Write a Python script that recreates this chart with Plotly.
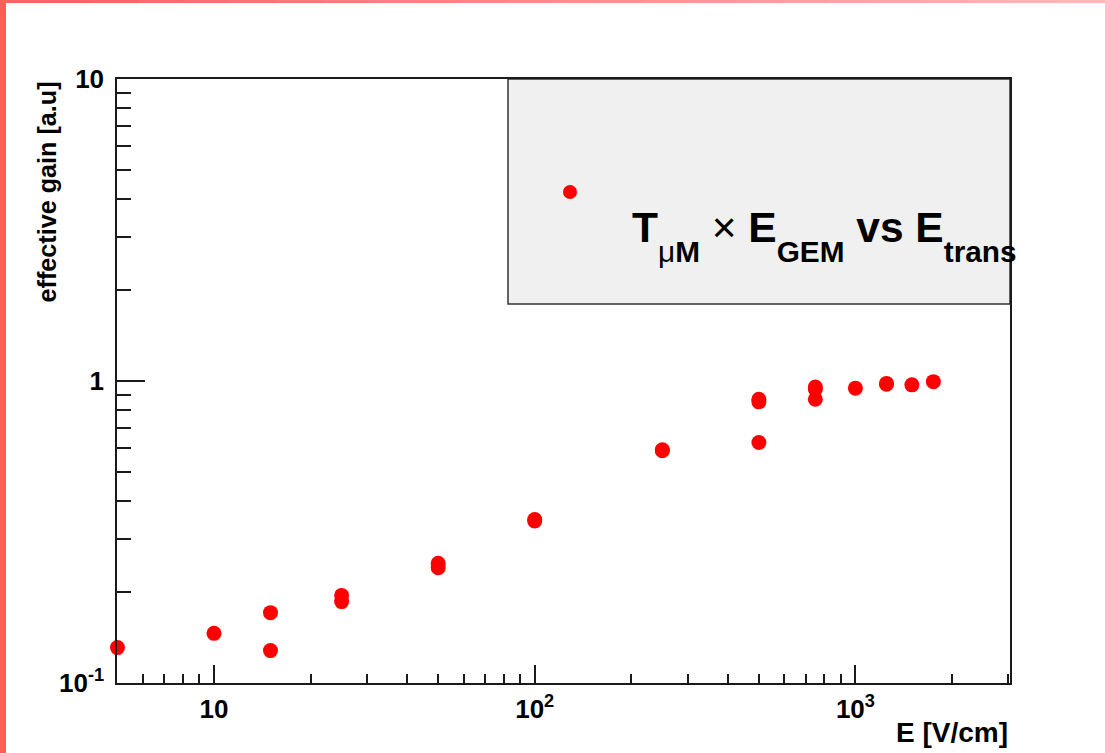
import numpy as np
import plotly.graph_objects as go

# ---- data ----
E_field = [5, 10, 15, 15, 25, 25, 50, 50, 100, 100, 250, 250,
           500, 500, 500, 750, 750, 750, 1000, 1250, 1250, 1500, 1750]
gain = [0.131, 0.146, 0.171, 0.128, 0.195, 0.186, 0.249, 0.241, 0.348, 0.344,
        0.592, 0.588, 0.870, 0.853, 0.626, 0.955, 0.940, 0.870, 0.947,
        0.982, 0.975, 0.971, 0.995]

x_major = [10, 100, 1000]
x_major_text = ["10", "10<sup>2</sup>", "10<sup>3</sup>"]
x_minor = [6, 7, 8, 9, 20, 30, 40, 50, 60, 70, 80, 90,
           200, 300, 400, 500, 600, 700, 800, 900, 2000, 3000]
y_major = [0.1, 1, 10]
y_major_text = ["10<sup>-1</sup>", "1", "10"]
y_minor = [0.2, 0.3, 0.4, 0.5, 0.6, 0.7, 0.8, 0.9, 2, 3, 4, 5, 6, 7, 8, 9]

SUBSHIFT = "baseline-shift:-11px"
legend_text = ("<b>T</b><sub><span style='%s'>μ<b>M</b></span></sub> × "
               "<b>E<sub><span style='%s'>GEM</span></sub> vs "
               "E<sub><span style='%s'>trans</span></sub></b>") % (SUBSHIFT, SUBSHIFT, SUBSHIFT)
x_title = "<b>E [V/cm]</b>"
y_title = "<b>effective gain [a.u]</b>"

# ---- layout geometry ----
W, H = 1105, 753
L, R, T, B = 117, 95, 79, 70
PW, PH = W - L - R, H - T - B
FONT = "Liberation Sans, Arial, Helvetica, sans-serif"


def px_x(p):
    return (p - L) / PW


def px_y(p):
    return (H - B - p) / PH


fig = go.Figure()
fig.add_trace(go.Scatter(
    x=E_field, y=gain, mode="markers",
    marker=dict(color="#ff0000", size=15, line=dict(width=0)),
    cliponaxis=False, showlegend=False,
))

axis_common = dict(
    type="log", showgrid=False, zeroline=False,
    showline=True, mirror=True, linecolor="#1a1a1a", linewidth=1.5,
    ticks="inside", tickcolor="#1a1a1a", tickwidth=1.5,
    tickfont=dict(family=FONT, size=26, color="black", weight="bold"),
)

fig.update_xaxes(
    **axis_common,
    range=[0.6975, 3.482],
    tickmode="array", tickvals=x_major, ticktext=x_major_text,
    ticklen=18, ticklabelstandoff=2,
    minor=dict(tickmode="array", tickvals=x_minor, ticks="inside",
               ticklen=9, tickwidth=1.5, tickcolor="#1a1a1a", showgrid=False),
)
fig.update_yaxes(
    **axis_common,
    range=[-1, 1],
    tickmode="array", tickvals=y_major, ticktext=y_major_text,
    ticklen=28, ticklabelstandoff=6,
    minor=dict(tickmode="array", tickvals=y_minor, ticks="inside",
               ticklen=14, tickwidth=1.5, tickcolor="#1a1a1a", showgrid=False),
)

shapes = []
# legend box
shapes.append(dict(type="rect", xref="paper", yref="paper",
                   x0=px_x(508), x1=1.0, y0=px_y(304), y1=1.0,
                   fillcolor="#f0f0f0", line=dict(color="#333333", width=1.5),
                   layer="below"))
# legend marker
shapes.append(dict(type="circle", xref="paper", yref="paper",
                   xsizemode="pixel", ysizemode="pixel",
                   xanchor=px_x(570), yanchor=px_y(192),
                   x0=-7, x1=7, y0=-7, y1=7,
                   fillcolor="#ff0000", line=dict(width=0)))
# canvas border: left strip and top gradient strip
shapes.append(dict(type="rect", xref="paper", yref="paper",
                   x0=px_x(0), x1=px_x(6), y0=px_y(H), y1=px_y(0),
                   fillcolor="#ff5c5c", line=dict(width=0), layer="above"))
nseg = 24
c0 = np.array([0xff, 0x60, 0x60])
c1 = np.array([0xff, 0xb8, 0xb8])
for i in range(nseg):
    t = i / (nseg - 1)
    c = (c0 + (c1 - c0) * t).astype(int)
    shapes.append(dict(type="rect", xref="paper", yref="paper",
                       x0=px_x(W * i / nseg), x1=px_x(W * (i + 1) / nseg + 1),
                       y0=px_y(3), y1=px_y(0),
                       fillcolor="rgb(%d,%d,%d)" % tuple(c),
                       line=dict(width=0), layer="above"))

annotations = [
    dict(text=legend_text, xref="paper", yref="paper",
         x=px_x(630), y=px_y(236), xanchor="left", yanchor="middle",
         showarrow=False, font=dict(family=FONT, size=42.5, color="black")),
    dict(text=x_title, xref="paper", yref="paper",
         x=1.0, y=px_y(732), xanchor="right", yanchor="middle",
         showarrow=False, font=dict(family=FONT, size=28, color="black")),
    dict(text=y_title, xref="paper", yref="paper", textangle=-90,
         x=px_x(47), y=px_y(80), xanchor="center", yanchor="top",
         showarrow=False, font=dict(family=FONT, size=25.2, color="black")),
]

fig.update_layout(
    width=W, height=H,
    margin=dict(l=L, r=R, t=T, b=B, pad=0),
    paper_bgcolor="white", plot_bgcolor="white",
    shapes=shapes, annotations=annotations,
    showlegend=False,
)

fig.write_html("out.html")
